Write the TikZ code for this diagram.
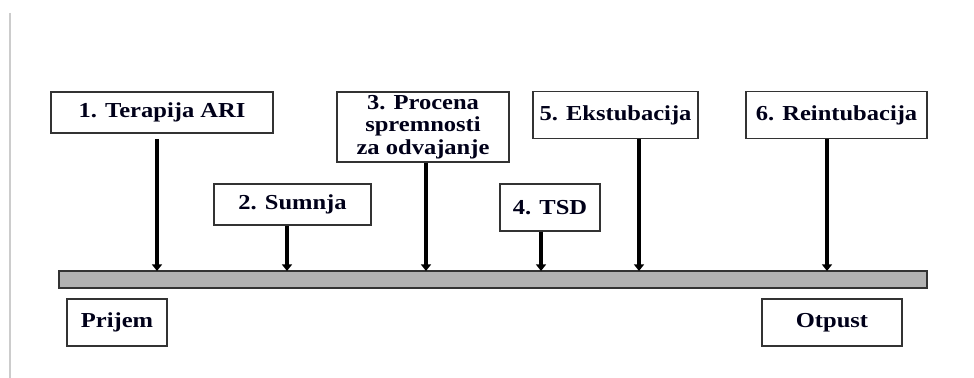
\documentclass[tikz,border=0pt]{standalone}
\usepackage{fontspec}
\setmainfont{Liberation Serif}[FakeStretch=1.15]
\usetikzlibrary{arrows.meta,positioning,calc}

\begin{document}
\begin{tikzpicture}[
  x=0.75pt, y=-0.75pt,
  >=Stealth,
  % --- shared box base ---
  boxbase/.style={
    draw=black!80, fill=white, line width=1.1pt,
    inner sep=1pt, align=center,
    font=\bfseries\fontsize{16}{16.9}\selectfont, text=black!90!blue
  },
  % --- box types ---
  evt/.style={boxbase, minimum height=31pt},
  evttall/.style={boxbase, minimum height=35pt},
  endpt/.style={boxbase, minimum height=35pt},
  % --- timeline ---
  tline/.style={draw=black!80, fill=black!30, line width=0.9pt},
  % --- arrows ---
  arr/.style={-{Triangle[length=5pt, width=7.5pt]}, line width=2.4pt, draw=black},
]

\useasboundingbox (0,0) rectangle (974,378);

% page edge
\draw[black!20, line width=0.8pt] (10,13) -- (10,378);

% ===================== TIMELINE =====================

\node[tline, minimum width=651pt, minimum height=12.75pt, inner sep=0pt] (bar) at (493,279.5) {};

\coordinate (t1) at (157,271);
\coordinate (t2) at (287,271);
\coordinate (t3) at (426,271);
\coordinate (t4) at (541,271);
\coordinate (t5) at (639,271);
\coordinate (t6) at (827,271);

% ===================== EVENTS =====================

\node[evt, minimum width=166.5pt] (ari) at (162,112.5) {1. Terapija ARI};
\node[evt, minimum width=117.75pt] (sumnja) at (292.5,204.5) {2. Sumnja};
\node[boxbase, minimum width=129pt, minimum height=52.5pt] (procena) at (423,127)
  {3. Procena\\spremnosti\\za odvajanje};
\node[evttall, minimum width=75pt] (tsd) at (550,207.5) {4. TSD};
\node[evttall, minimum width=123.75pt] (ekst) at (615.5,115) {5. Ekstubacija};
\node[evttall, minimum width=135.75pt] (reint) at (836.5,115) {6. Reintubacija};

% ===================== ADMISSION / DISCHARGE =====================

\node[endpt, minimum width=75pt] (prijem) at (117,322.5) {Prijem};
\node[endpt, minimum width=105pt] (otpust) at (832,322.5) {Otpust};

% ===================== ARROWS =====================

\draw[arr, shorten <=3.75pt] (ari.south -| t1) -- (t1);
\draw[arr] (sumnja.south -| t2) -- (t2);
\draw[arr] (procena.south -| t3) -- (t3);
\draw[arr] (tsd.south -| t4) -- (t4);
\draw[arr] (ekst.south -| t5) -- (t5);
\draw[arr] (reint.south -| t6) -- (t6);

\end{tikzpicture}
\end{document}
